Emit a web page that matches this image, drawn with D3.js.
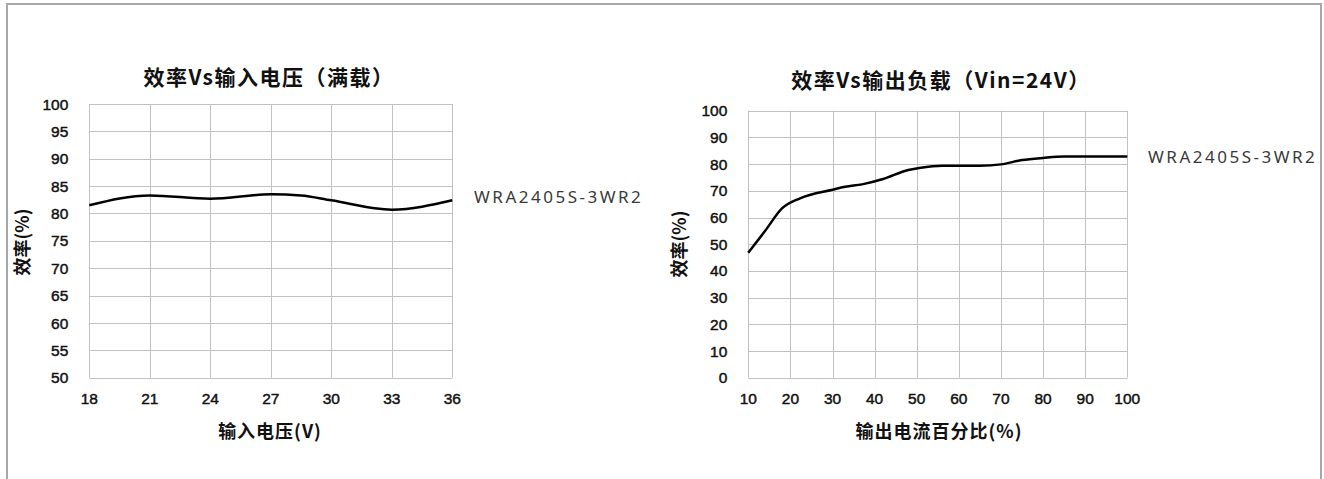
<!DOCTYPE html>
<html>
<head>
<meta charset="utf-8">
<script src="https://cdn.jsdelivr.net/npm/d3@7"></script>
<style>
  html, body { margin: 0; padding: 0; background: #fff; }
  svg { display: block; }
  .tick-label { font-family: "Liberation Sans", Arial, sans-serif; font-size: 15.5px; fill: #111; stroke: #111; stroke-width: 0.45px; }
  .cjk { font-family: "Noto Sans CJK SC", sans-serif; font-weight: bold; fill: #111; }
  .series-label { font-family: "Noto Sans", sans-serif; font-size: 17px; fill: #3a3a3a; letter-spacing: 2.5px; }
</style>
</head>
<body>
<svg id="chart" width="1324" height="479"></svg>
<script>
// ---- Data ----
const leftTitle = "效率Vs输入电压（满载）";
const leftXTitle = "输入电压(V)";
const leftYTitle = "效率(%)";
const leftXTicks = [18, 21, 24, 27, 30, 33, 36];
const leftYTicks = [50, 55, 60, 65, 70, 75, 80, 85, 90, 95, 100];
const inputVoltage = [18, 21, 24, 27, 28.5, 30, 33, 36];
const effVsVoltage = [81.5, 83.3, 82.7, 83.5, 83.3, 82.4, 80.7, 82.4];

const rightTitle = "效率Vs输出负载（Vin=24V）";
const rightXTitle = "输出电流百分比(%)";
const rightYTitle = "效率(%)";
const rightXTicks = [10, 20, 30, 40, 50, 60, 70, 80, 90, 100];
const rightYTicks = [0, 10, 20, 30, 40, 50, 60, 70, 80, 90, 100];
const loadPercent = [10, 14, 18, 22.3, 30, 33, 37, 42, 48, 50.5, 56, 65, 70, 75, 80, 85, 90, 100];
const effVsLoad   = [46.8, 55, 63.4, 67.2, 70.4, 71.5, 72.4, 74.4, 77.8, 78.5, 79.4, 79.4, 79.9, 81.5, 82.3, 82.8, 82.8, 82.8];

const seriesName = "WRA2405S-3WR2";

// ---- Drawing ----
const svg = d3.select("#chart");

// outer frame
svg.append("rect")
  .attr("x", 7).attr("y", 4).attr("width", 1314).attr("height", 500)
  .attr("fill", "none").attr("stroke", "#a8a8a8").attr("stroke-width", 2);

function drawPanel(cfg) {
  const g = svg.append("g");
  const x = d3.scaleLinear().domain(cfg.xDomain).range([cfg.left, cfg.right]);
  const y = d3.scaleLinear().domain(cfg.yDomain).range([cfg.bottom, cfg.top]);

  // gridlines
  g.append("g").selectAll("line.v").data(cfg.xTicks).join("line")
    .attr("x1", d => Math.round(x(d)) + 0.5).attr("x2", d => Math.round(x(d)) + 0.5)
    .attr("y1", y(cfg.yDomain[0])).attr("y2", y(cfg.yDomain[1]))
    .attr("stroke", "#c2c2c2").attr("stroke-width", 1);
  g.append("g").selectAll("line.h").data(cfg.yTicks).join("line")
    .attr("y1", d => Math.round(y(d)) + 0.5).attr("y2", d => Math.round(y(d)) + 0.5)
    .attr("x1", x(cfg.xDomain[0])).attr("x2", x(cfg.xDomain[1]))
    .attr("stroke", "#c2c2c2").attr("stroke-width", 1);

  // tick labels
  g.append("g").selectAll("text").data(cfg.yTicks).join("text")
    .attr("class", "tick-label")
    .attr("x", cfg.left - 21).attr("y", d => y(d)).attr("dy", "0.36em")
    .attr("text-anchor", "end").text(d => d);
  g.append("g").selectAll("text").data(cfg.xTicks).join("text")
    .attr("class", "tick-label")
    .attr("x", d => x(d)).attr("y", 404)
    .attr("text-anchor", "middle").text(d => d);

  // line
  const pts = cfg.xs.map((v, i) => [v, cfg.ys[i]]);
  g.append("path").datum(pts)
    .attr("fill", "none").attr("stroke", "#000").attr("stroke-width", 2.5)
    .attr("stroke-linejoin", "round")
    .attr("d", d3.line().x(d => x(d[0])).y(d => y(d[1])).curve(d3.curveMonotoneX));

  // titles
  g.append("text").attr("class", "cjk")
    .attr("x", cfg.titleX).attr("y", cfg.titleY)
    .attr("text-anchor", "middle").style("font-size", "21px").style("letter-spacing", "1.5px")
    .text(cfg.title);
  g.append("text").attr("class", "cjk")
    .attr("x", cfg.xTitleX).attr("y", 438)
    .attr("text-anchor", "middle").style("font-size", "18px").style("letter-spacing", "1px")
    .text(cfg.xTitle);
  g.append("text").attr("class", "cjk")
    .attr("transform", `translate(${cfg.yTitleX},${cfg.yTitleY}) rotate(-90)`)
    .attr("text-anchor", "middle").attr("dy", "0.35em").style("font-size", "18px")
    .text(cfg.yTitle);

  // series label
  g.append("text").attr("class", "series-label")
    .attr("x", cfg.labelX).attr("y", cfg.labelY).text(seriesName);
}

drawPanel({
  left: 89.3, right: 452.3, top: 104, bottom: 377.7,
  xDomain: [18, 36], yDomain: [50, 100],
  xTicks: leftXTicks, yTicks: leftYTicks,
  xs: inputVoltage, ys: effVsVoltage,
  title: leftTitle, titleX: 269, titleY: 85,
  xTitle: leftXTitle, xTitleX: 270,
  yTitle: leftYTitle, yTitleX: 23, yTitleY: 242,
  labelX: 474, labelY: 203
});

drawPanel({
  left: 748.3, right: 1127.3, top: 110.7, bottom: 377.7,
  xDomain: [10, 100], yDomain: [0, 100],
  xTicks: rightXTicks, yTicks: rightYTicks,
  xs: loadPercent, ys: effVsLoad,
  title: rightTitle, titleX: 941, titleY: 88,
  xTitle: rightXTitle, xTitleX: 939,
  yTitle: rightYTitle, yTitleX: 680, yTitleY: 244,
  labelX: 1148, labelY: 163
});
</script>
</body>
</html>
